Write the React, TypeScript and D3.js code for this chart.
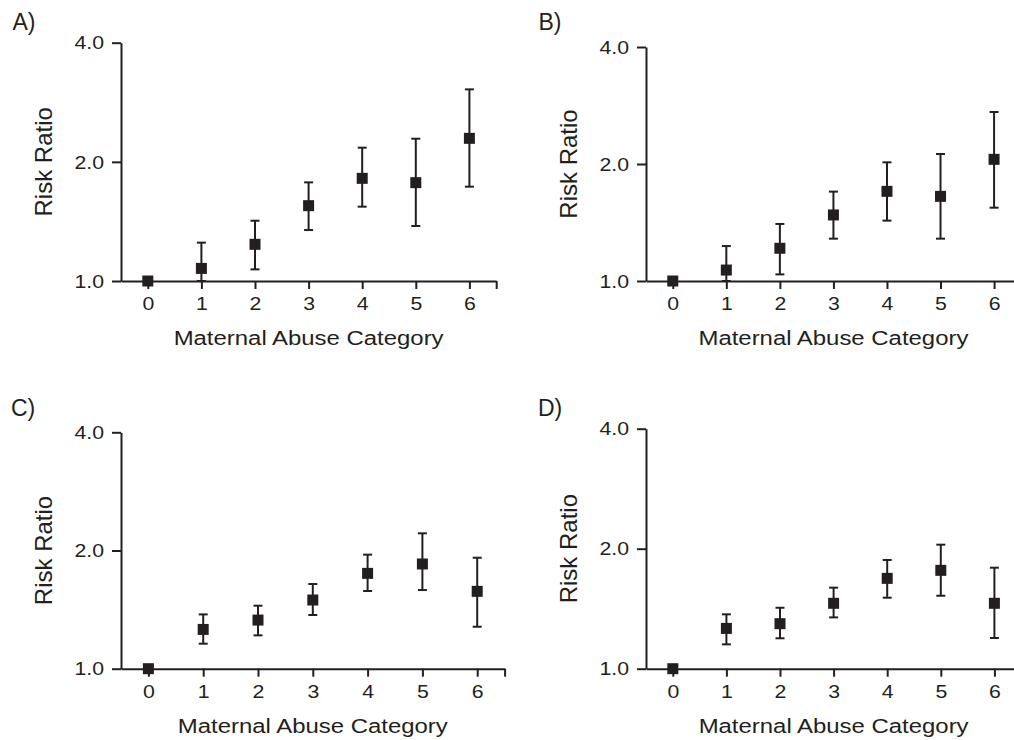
import React, { useEffect, useRef } from 'react'
import * as d3 from 'd3'

// categories on the x axis
const categories = [0, 1, 2, 3, 4, 5, 6]
const yTicks = [1, 2, 4]

// panel A
const rrA = [1.0, 1.076, 1.238, 1.55, 1.817, 1.772, 2.293]
const loA = [1.0, 1.0, 1.07, 1.345, 1.541, 1.377, 1.731]
const hiA = [1.0, 1.25, 1.42, 1.775, 2.172, 2.288, 3.049]
// panel B
const rrB = [1.0, 1.067, 1.214, 1.479, 1.701, 1.651, 2.056]
const loB = [1.0, 1.0, 1.04, 1.285, 1.43, 1.285, 1.544]
const hiB = [1.0, 1.23, 1.402, 1.698, 2.02, 2.122, 2.722]
// panel C
const rrC = [1.0, 1.259, 1.33, 1.496, 1.749, 1.848, 1.574]
const loC = [1.0, 1.158, 1.216, 1.37, 1.577, 1.586, 1.279]
const hiC = [1.0, 1.375, 1.447, 1.643, 1.952, 2.212, 1.917]
// panel D
const rrD = [1.0, 1.262, 1.297, 1.459, 1.685, 1.765, 1.459]
const loD = [1.0, 1.151, 1.192, 1.345, 1.507, 1.524, 1.194]
const hiD = [1.0, 1.369, 1.422, 1.597, 1.874, 2.047, 1.792]

const panelNames = ['A)', 'B)', 'C)', 'D)']
const xTitle = 'Maternal Abuse Category'
const yTitle = 'Risk Ratio'

const INK = '#231f20'
const FONT = "'Liberation Sans', Arial, Helvetica, sans-serif"

const panels = [
  { name: panelNames[0], rr: rrA, lo: loA, hi: hiA, axisX: 121, axisY: 281, topY: 42.7, step: 53.6, lx: 12.5, ly: 30 },
  { name: panelNames[1], rr: rrB, lo: loB, hi: hiB, axisX: 646, axisY: 281, topY: 47, step: 53.55, lx: 538.5, ly: 30 },
  { name: panelNames[2], rr: rrC, lo: loC, hi: hiC, axisX: 121, axisY: 668.7, topY: 432.3, step: 54.8, lx: 11, ly: 416 },
  { name: panelNames[3], rr: rrD, lo: loD, hi: hiD, axisX: 646, axisY: 668.7, topY: 428.7, step: 53.6, lx: 538, ly: 416 },
]

export default function App() {
  const ref = useRef<SVGSVGElement>(null)

  useEffect(() => {
    const svg = d3.select(ref.current)
    svg.selectAll('*').remove()

    panels.forEach((p) => {
      const x = d3.scaleLinear()
        .domain([-0.5, 6.5])
        .range([p.axisX, p.axisX + 7 * p.step])
      const y = d3.scaleLog().base(2)
        .domain([1, 4])
        .range([p.axisY, p.topY])

      const g = svg.append('g')

      // panel letter
      g.append('text')
        .attr('x', p.lx)
        .attr('y', p.ly)
        .style('font-family', FONT)
        .style('font-size', '23px')
        .attr('fill', INK)
        .text(p.name)

      // y axis
      const ya = g.append('g')
        .attr('transform', `translate(${p.axisX},0)`)
        .call(d3.axisLeft(y).tickValues(yTicks).tickFormat(d3.format('.1f')).tickSize(9).tickSizeOuter(0))
      ya.selectAll('path, line').attr('stroke', INK).attr('stroke-width', 2)
      ya.selectAll('text')
        .attr('x', null)
        .attr('dy', '0.33em')
        .attr('transform', 'translate(-17,0) scale(1.12,1)')
        .attr('fill', INK)
        .style('font-family', FONT)
        .style('font-size', '19px')

      // x axis
      const xa = g.append('g')
        .attr('transform', `translate(0,${p.axisY})`)
        .call(d3.axisBottom(x)
          .tickValues([...categories, 6.5])
          .tickFormat((d) => (categories.includes(+d) ? String(d) : ''))
          .tickSize(8).tickPadding(8).tickSizeOuter(0))
      xa.selectAll('path, line').attr('stroke', INK).attr('stroke-width', 2)
      xa.selectAll('text')
        .attr('transform', 'scale(1.12,1)')
        .attr('fill', INK)
        .style('font-family', FONT)
        .style('font-size', '19px')

      // axis titles
      g.append('text')
        .attr('text-anchor', 'middle')
        .attr('transform', `translate(${x(3)},${p.axisY + 64}) scale(1.14,1)`)
        .attr('fill', INK)
        .style('font-family', FONT)
        .style('font-size', '21px')
        .text(xTitle)

      g.append('text')
        .attr('text-anchor', 'middle')
        .attr('transform', `translate(${p.axisX - 69},${(p.axisY + p.topY) / 2}) rotate(-90)`)
        .attr('fill', INK)
        .style('font-family', FONT)
        .style('font-size', '24px')
        .text(yTitle)

      // error bars
      const bars = categories.filter((c, i) => p.hi[i] > p.lo[i])
      const eb = g.append('g').attr('stroke', INK).attr('stroke-width', 2)
      eb.selectAll('line.v').data(bars).enter().append('line')
        .attr('x1', (c) => x(c)).attr('x2', (c) => x(c))
        .attr('y1', (c) => y(p.lo[c])).attr('y2', (c) => y(p.hi[c]))
      eb.selectAll('line.hi').data(bars).enter().append('line')
        .attr('x1', (c) => x(c) - 4.5).attr('x2', (c) => x(c) + 4.5)
        .attr('y1', (c) => y(p.hi[c])).attr('y2', (c) => y(p.hi[c]))
      eb.selectAll('line.lo').data(bars).enter().append('line')
        .attr('x1', (c) => x(c) - 4.5).attr('x2', (c) => x(c) + 4.5)
        .attr('y1', (c) => y(p.lo[c])).attr('y2', (c) => y(p.lo[c]))

      // point estimates
      const s = 11
      g.append('g').selectAll('rect').data(categories).enter().append('rect')
        .attr('x', (c) => x(c) - s / 2)
        .attr('y', (c) => y(p.rr[c]) - s / 2)
        .attr('width', s)
        .attr('height', s)
        .attr('fill', INK)
    })
  }, [])

  return (
    <svg ref={ref} width={1014} height={740}
      style={{ position: 'absolute', left: 0, top: 0, background: '#fff' }} />
  )
}
